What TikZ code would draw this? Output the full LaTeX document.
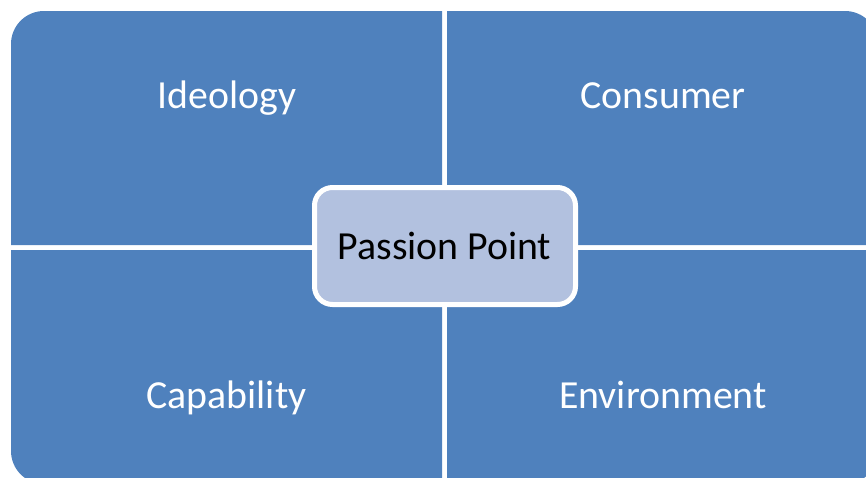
\documentclass[tikz,border=0pt]{standalone}
\usepackage{fontspec}
\setmainfont{Carlito}
\definecolor{quadblue}{RGB}{79,129,189}
\definecolor{hubfill}{RGB}{178,193,223}
\begin{document}
\begin{tikzpicture}[x=1pt,y=-1pt,
  quadrant/.style={fill=quadblue},
  quadlabel/.style={anchor=base,text=white,inner sep=0pt,font=\fontsize{39.8}{46}\selectfont},
  hub/.style={draw=white,line width=5pt,fill=hubfill,rounded corners=18pt,
    minimum width=261pt,minimum height=117pt,inner sep=0pt,
    font=\fontsize{39.8}{46}\selectfont,text=black}]
\useasboundingbox (0,0) rectangle (866,477);
\clip (0,0) rectangle (866,477);
% four quadrants, each rounded only at its outer corner
\fill[quadrant] (11,245) [rounded corners=33pt] -- (11,11) [sharp corners] -- (442,11) -- (442,245) -- cycle;
\fill[quadrant] (447,245) -- (447,11) [rounded corners=33pt] -- (878,11) [sharp corners] -- (878,245) -- cycle;
\fill[quadrant] (11,250) -- (442,250) -- (442,484) [rounded corners=33pt] -- (11,484) [sharp corners] -- cycle;
\fill[quadrant] (447,250) -- (878,250) [rounded corners=33pt] -- (878,484) [sharp corners] -- (447,484) -- cycle;
% quadrant labels
\node[quadlabel] (ideology) at (227,108) {Ideology};
\node[quadlabel] (consumer) at (663,108) {Consumer};
\node[quadlabel] (capability) at (226.5,408) {Capability};
\node[quadlabel] (environment) at (663,408) {Environment};
% central hub
\node[hub] (passion) at (445,246) {};
\node[anchor=base,inner sep=0pt,font=\fontsize{39.8}{46}\selectfont] (passionlabel) at (444.5,259) {Passion Point};
\end{tikzpicture}
\end{document}
